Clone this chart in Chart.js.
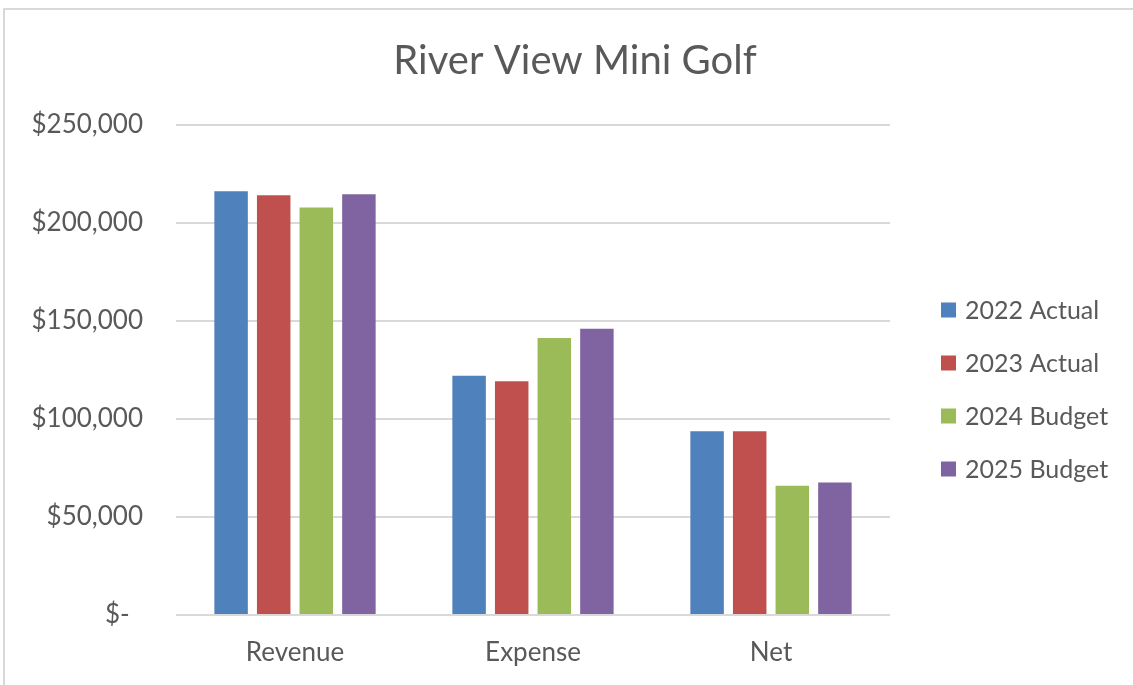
<!DOCTYPE html>
<html>
<head>
<meta charset="utf-8">
<title>River View Mini Golf</title>
<script src="https://cdn.jsdelivr.net/npm/chart.js@4.4.1/dist/chart.umd.min.js"></script>
<style>
  html, body { margin: 0; padding: 0; background: #ffffff; }
  #wrap { position: relative; width: 1133px; height: 685px; overflow: hidden; }
  #frame {
    position: absolute; left: 3px; top: 8px; right: -10px; bottom: -10px;
    border-top: 2px solid #d9d9d9; border-left: 2px solid #d9d9d9;
    pointer-events: none;
  }
  canvas { display: block; }
</style>
</head>
<body>
<div id="wrap">
  <canvas id="chart" width="1133" height="685"></canvas>
  <div id="frame"></div>
</div>
<script>
// Budget summary figures (USD)
const categories = ['Revenue', 'Expense', 'Net'];
const seriesNames = ['2022 Actual', '2023 Actual', '2024 Budget', '2025 Budget'];
const actual2022 = [216200, 122100, 93700];
const actual2023 = [214200, 119200, 93700];
const budget2024 = [207900, 141300, 66000];
const budget2025 = [214700, 146100, 67600];
const yTicks = [0, 50000, 100000, 150000, 200000, 250000];
const chartTitle = 'River View Mini Golf';

const seriesColors = ['#4F81BD', '#C0504D', '#9BBB59', '#8064A2'];
const textColor = '#595959';
const fontFamily = 'Lato, "Open Sans", "DejaVu Sans", sans-serif';

function money(v) {
  if (v === 0) return '$-  ';
  return '$' + v.toLocaleString('en-US');
}

// Title centred across the whole chart box, including the legend column
const boxTitle = {
  id: 'boxTitle',
  afterDraw(chart) {
    const ctx = chart.ctx;
    ctx.save();
    ctx.font = '40px ' + fontFamily;
    ctx.fillStyle = textColor;
    ctx.textAlign = 'center';
    ctx.textBaseline = 'middle';
    ctx.fillText(chartTitle, 575, 61);
    ctx.restore();
  }
};

// Legend drawn at the right, one row per dataset
const sideLegend = {
  id: 'sideLegend',
  afterDraw(chart) {
    const ctx = chart.ctx;
    const x0 = 941, box = 15, textX = 965;
    const y0 = 310, step = 53;
    ctx.save();
    ctx.font = '25px ' + fontFamily;
    ctx.textBaseline = 'middle';
    ctx.textAlign = 'left';
    chart.data.datasets.forEach((ds, i) => {
      const y = y0 + i * step;
      ctx.fillStyle = ds.backgroundColor;
      ctx.fillRect(x0, y - box / 2, box, box);
      ctx.fillStyle = textColor;
      ctx.fillText(ds.label, textX, y + 1);
    });
    ctx.restore();
  }
};

const seriesData = [actual2022, actual2023, budget2024, budget2025];

new Chart(document.getElementById('chart'), {
  type: 'bar',
  data: {
    labels: categories,
    datasets: seriesNames.map((name, i) => ({
      label: name,
      data: seriesData[i],
      backgroundColor: seriesColors[i],
      borderWidth: 0,
      categoryPercentage: 0.716,
      barPercentage: 0.786
    }))
  },
  options: {
    responsive: false,
    animation: false,
    layout: { padding: { left: 0, right: 243, top: 125, bottom: 0 } },
    plugins: {
      legend: { display: false },
      tooltip: { enabled: false },
      title: { display: false }
    },
    scales: {
      x: {
        grid: { display: false, drawTicks: false },
        border: { display: false },
        ticks: {
          color: textColor,
          font: { family: fontFamily, size: 26 },
          padding: 22
        },
        afterFit(scale) { scale.height = 70; }
      },
      y: {
        min: 0,
        max: 250000,
        afterBuildTicks(scale) { scale.ticks = yTicks.map(v => ({ value: v })); },
        grid: { color: '#d9d9d9', lineWidth: 2, drawTicks: false },
        border: { display: false },
        ticks: {
          color: textColor,
          font: { family: fontFamily, size: 26 },
          padding: 33,
          callback: (v) => money(v)
        },
        afterFit(scale) { scale.width = 176; }
      }
    }
  },
  plugins: [boxTitle, sideLegend]
});
</script>
</body>
</html>
